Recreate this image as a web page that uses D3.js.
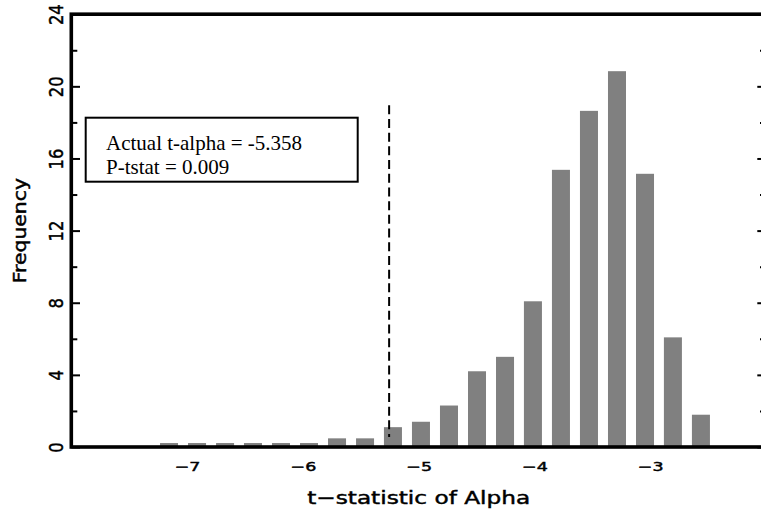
<!DOCTYPE html>
<html>
<head>
<meta charset="utf-8">
<title>t-statistic of Alpha</title>
<script src="https://d3js.org/d3.v7.min.js"></script>
<style>
  body { margin: 0; background: #fff; }
  svg { display: block; }
  .lbl { font-family: "DejaVu Sans", sans-serif; fill: #000; stroke: #000; stroke-width: 0.45px; }
  .note { font-family: "Liberation Serif", "Times New Roman", serif; font-size: 21px; fill: #000; }
</style>
</head>
<body>
<svg width="761" height="510"></svg>
<script>
// histogram bins (centre of each bin) and their frequencies
const binCenters = [-7.156, -6.914, -6.672, -6.431, -6.189, -5.947, -5.705, -5.463, -5.222, -4.980,
                    -4.738, -4.496, -4.254, -4.013, -3.771, -3.529, -3.287, -3.045, -2.804, -2.562];
const frequency = [0.22, 0.22, 0.22, 0.22, 0.22, 0.22, 0.48, 0.48, 1.1, 1.4,
                   2.3, 4.2, 5.0, 8.08, 15.37, 18.64, 20.84, 15.15, 6.08, 1.79];

const yTicks = [0, 4, 8, 12, 16, 20, 24];
const yMinorTicks = [2, 6, 10, 14, 18, 22];
const xTicks = [-7, -6, -5, -4, -3];

// dashed marker for the actual t-statistic
const markerX = -5.255;
const markerSpan = [0.55, 18.95];
const noteLines = ["Actual t-alpha = -5.358", "P-tstat = 0.009"];

const svg = d3.select("svg");
const plotL = 71.3, plotR = 766, plotT = 14.2, plotB = 447;

const x = d3.scaleLinear().domain([-8, -2]).range([plotL, plotR]);
const y = d3.scaleLinear().domain([0, 24]).range([plotB, plotT]);

// bars
const step = x(binCenters[1]) - x(binCenters[0]);
const barW = step * 0.643;
svg.append("g").selectAll("rect")
  .data(binCenters)
  .join("rect")
  .attr("x", (d) => x(d) - barW / 2)
  .attr("width", barW)
  .attr("y", (d, i) => y(frequency[i]))
  .attr("height", (d, i) => y(0) - y(frequency[i]))
  .attr("fill", "#808080");

// dashed line at the observed t-alpha
svg.append("line")
  .attr("x1", x(markerX)).attr("x2", x(markerX))
  .attr("y1", y(markerSpan[1])).attr("y2", y(markerSpan[0]))
  .attr("stroke", "#000")
  .attr("stroke-width", 2)
  .attr("stroke-dasharray", "9,4.7");

// frame
svg.append("rect")
  .attr("x", plotL).attr("y", plotT)
  .attr("width", plotR - plotL).attr("height", plotB - plotT)
  .attr("fill", "none")
  .attr("stroke", "#000")
  .attr("stroke-width", 3.6);

// inward ticks on left and right
function ticks(axis, xpos, values, size) {
  const g = svg.append("g")
    .attr("transform", `translate(${xpos},0)`)
    .call(axis(y).tickValues(values).tickSizeInner(size).tickSizeOuter(0).tickFormat(""));
  g.select(".domain").remove();
  g.selectAll("line").attr("stroke-width", 2);
  return g;
}
const yAxis = ticks(d3.axisLeft, plotL, yTicks, -8.7);
ticks(d3.axisLeft, plotL, yMinorTicks, -6);
ticks(d3.axisRight, plotR, yTicks, -8.7);
ticks(d3.axisRight, plotR, yMinorTicks, -6);

// y tick labels, rotated
yAxis.selectAll(".tick text")
  .text((d) => d)
  .attr("class", "lbl")
  .attr("x", 0).attr("dy", 0)
  .attr("text-anchor", "middle")
  .attr("font-size", 20)
  .attr("transform", "translate(-8.5,0) rotate(-90) scale(0.82,1)");

// x tick labels
const xAxis = svg.append("g")
  .attr("transform", `translate(0,${plotB})`)
  .call(d3.axisBottom(x).tickValues(xTicks).tickSize(0).tickFormat(d3.format("d")));
xAxis.select(".domain").remove();
xAxis.selectAll(".tick text")
  .attr("class", "lbl")
  .attr("y", 0).attr("dy", 0)
  .attr("font-size", 12.5)
  .attr("transform", "translate(0,23.7) scale(1.4,1)");

// axis titles
svg.append("text")
  .attr("class", "lbl")
  .attr("text-anchor", "middle")
  .attr("font-size", 18)
  .attr("transform", `translate(${(plotL + plotR) / 2},504) scale(1.29,1)`)
  .text("t\u2212statistic of Alpha");

svg.append("text")
  .attr("class", "lbl")
  .attr("text-anchor", "middle")
  .attr("font-size", 17)
  .attr("transform", `translate(26,${(plotT + plotB) / 2}) rotate(-90) scale(1.2,1)`)
  .text("Frequency");

// note box
svg.append("rect")
  .attr("x", 85.7).attr("y", 117.7)
  .attr("width", 272).attr("height", 64)
  .attr("fill", "#fff")
  .attr("stroke", "#000")
  .attr("stroke-width", 2);
svg.append("g").selectAll("text")
  .data(noteLines)
  .join("text")
  .attr("class", "note")
  .attr("x", 106)
  .attr("y", (d, i) => 150 + i * 23.5)
  .text((d) => d);
</script>
</body>
</html>
